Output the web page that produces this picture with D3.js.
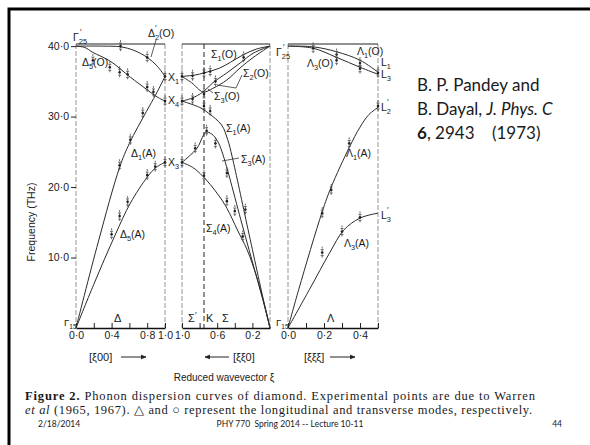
<!DOCTYPE html>
<html>
<head>
<meta charset="utf-8">
<script src="https://cdn.jsdelivr.net/npm/d3@7/dist/d3.min.js"></script>
<style>
  body { margin: 0; background: #fff; }
  svg text { font-family: "Liberation Sans", Arial, sans-serif; fill: #1a1a1a; }
</style>
</head>
<body>
<div id="chart"></div>
<script>
// phonon branches, [reduced wavevector ξ, frequency THz]
// Δ direction, Γ -> X
var delta2O = [[0, 40], [0.3, 40], [0.5, 39.9], [0.65, 39.4], [0.8, 38.4], [0.91, 37.2], [1, 35.7]];
var delta5O = [[0, 40], [0.1, 39.8], [0.19, 39.1], [0.38, 37.9], [0.61, 35.6], [0.8, 33.8], [0.91, 32.8], [1, 32.2]];
var delta1A = [[0, 0], [0.25, 12.2], [0.49, 22.8], [0.6, 26.2], [0.79, 30.7], [0.9, 33.2], [1, 35.7]];
var delta5A = [[0, 0], [0.2, 6.2], [0.44, 13.2], [0.61, 17.7], [0.8, 21.4], [0.9, 22.8], [1, 23.5]];
// Σ direction, X -> K -> Γ
var sigma1O = [[1, 35.7], [0.85, 35.9], [0.75, 36.2], [0.57, 36.9], [0.45, 37.7], [0.3, 38.8], [0.15, 39.6], [0, 40]];
var sigma2O = [[1, 32.2], [0.89, 32.6], [0.76, 33.5], [0.65, 34.8], [0.49, 36.2], [0.34, 37.6], [0.19, 39.0], [0, 40]];
var sigma3O = [[1, 35.7], [0.89, 34.8], [0.76, 33.5], [0.65, 34.0], [0.49, 35.2], [0.34, 36.9], [0.19, 38.4], [0, 40]];
var sigma1A = [[1, 32.2], [0.8, 31.3], [0.7, 30.5], [0.55, 28.8], [0.48, 26.7], [0.43, 24.3], [0.25, 14.0], [0.057, 3.0], [0, 0]];
var sigma3A = [[1, 23.5], [0.83, 25.5], [0.77, 27], [0.73, 27.8], [0.66, 27.5], [0.6, 26.6], [0.545, 25], [0.3, 13.9], [0.06, 3], [0, 0]];
var sigma4A = [[1, 23.5], [0.88, 22.8], [0.76, 21.5], [0.6, 19.1], [0.49, 17.0], [0.37, 13.9], [0.26, 11.1], [0.15, 7.2], [0.057, 3.0], [0, 0]];
// Λ direction, Γ -> L
var lambda1O = [[0, 40], [0.14, 39.9], [0.27, 39.2], [0.4, 38], [0.5, 36.3]];
var lambda3O = [[0, 40], [0.14, 39.7], [0.27, 38.4], [0.4, 37.0], [0.5, 36.0]];
var lambda1A = [[0, 0], [0.06, 5.5], [0.19, 16.5], [0.24, 20], [0.34, 25.6], [0.4, 28.5], [0.45, 30.3], [0.5, 31.3]];
var lambda3A = [[0, 0], [0.12, 5.5], [0.23, 10.6], [0.31, 13.9], [0.4, 15.6], [0.5, 16.3]];

// experimental points (Warren et al)
var expDelta = [[0.5, 40], [0.8, 38.4], [0.19, 38], [0.38, 37], [0.49, 36.3], [0.58, 36], [0.8, 34.2], [0.87, 33.5],
  [0.61, 26.7], [0.75, 30.5], [0.49, 23.1], [0.4, 13.3], [0.49, 15.9], [0.58, 17.9], [0.8, 21.7], [0.89, 22.9],
  [1, 35.7], [1, 32.2], [1, 23.5]];
var expSigma = [[1, 35.7], [1, 32.2], [1, 23.5], [0.88, 35.8], [0.88, 32.5], [0.75, 36.2], [0.75, 33.2], [0.75, 31.5],
  [0.68, 36.4], [0.68, 30.8], [0.62, 35], [0.3, 38.4], [0.85, 25.5], [0.72, 28], [0.62, 26.2], [0.75, 21.6],
  [0.49, 22], [0.49, 18], [0.4, 16.6], [0.28, 16.8], [0.31, 13]];
var expLambda = [[0.14, 39.7], [0.27, 38.8], [0.27, 38], [0.4, 37.6], [0.4, 36.8], [0.5, 36.2], [0.5, 31.5],
  [0.34, 26.2], [0.24, 19.6], [0.19, 16.3], [0.4, 15.7], [0.3, 13.7], [0.19, 10.7]];

var yTicks = [10, 20, 30, 40];

var svg = d3.select("#chart").append("svg").attr("width", 590).attr("height", 445);

// slide frame
svg.append("rect").attr("x", 9).attr("y", 9).attr("width", 700).attr("height", 600)
  .attr("fill", "none").attr("stroke", "#000").attr("stroke-width", 3);

var y = d3.scaleLinear().domain([0, 40.3]).range([328, 44]);
var xD = d3.scaleLinear().domain([0, 1]).range([76, 165]);
var xS = d3.scaleLinear().domain([1, 0]).range([182, 270]);
var xL = d3.scaleLinear().domain([0, 0.5]).range([288, 378]);

var fig = svg.append("g");
var fmt = function(d) { return d3.format(".1f")(d).replace(".", "\u00b7"); };

function panel(x, ticks, labels) {
  var r = x.range();
  var x0 = Math.min(r[0], r[1]), x1 = Math.max(r[0], r[1]);
  // sides
  [x0, x1].forEach(function(xx) {
    fig.append("line").attr("x1", xx).attr("x2", xx).attr("y1", y(40.3)).attr("y2", y(0))
      .attr("stroke", "#888").attr("stroke-width", 0.9).attr("stroke-dasharray", "5,2");
  });
  fig.append("line").attr("x1", x0).attr("x2", x1).attr("y1", y(40.3)).attr("y2", y(40.3))
    .attr("stroke", "#222").attr("stroke-width", 1);
  var ax = fig.append("g").attr("transform", "translate(0," + y(0) + ")")
    .call(d3.axisBottom(x).tickValues(ticks).tickSizeInner(-5).tickSizeOuter(0).tickPadding(4)
      .tickFormat(function(d) { return labels.indexOf(d) >= 0 ? fmt(d) : ""; }));
  ax.select(".domain").attr("stroke", "#111").attr("stroke-width", 1.3);
  ax.selectAll(".tick line").attr("stroke", "#222");
  ax.selectAll("text").style("font-size", "10.5px").attr("fill", "#1a1a1a");
}

panel(xD, [0, 0.2, 0.4, 0.6, 0.8, 1], [0, 0.4, 0.8, 1]);
panel(xS, [1, 0.8, 0.6, 0.4, 0.2], [1, 0.6, 0.2]);
panel(xL, [0, 0.1, 0.2, 0.3, 0.4, 0.5], [0, 0.2, 0.4]);

// K dashed line
fig.append("line").attr("x1", xS(0.75)).attr("x2", xS(0.75)).attr("y1", y(40.3)).attr("y2", y(0))
  .attr("stroke", "#222").attr("stroke-width", 1).attr("stroke-dasharray", "5,3");

// y axis
var yax = fig.append("g").attr("transform", "translate(" + xD(0) + ",0)")
  .call(d3.axisLeft(y).tickValues(yTicks).tickSize(5).tickPadding(2).tickFormat(fmt));
yax.select(".domain").remove();
yax.selectAll(".tick line").attr("stroke", "#222");
yax.selectAll("text").style("font-size", "10.5px").attr("fill", "#1a1a1a");

fig.append("text").attr("transform", "translate(35,222) rotate(-90)").attr("text-anchor", "middle")
  .style("font-size", "10.5px").text("Frequency (THz)");

// curves
function drawCurves(x, branches) {
  var line = d3.line().x(function(d) { return x(d[0]); }).y(function(d) { return y(d[1]); })
    .curve(d3.curveCatmullRom.alpha(0.5));
  branches.forEach(function(b) {
    fig.append("path").datum(b).attr("d", line).attr("fill", "none")
      .attr("stroke", "#2a2a2a").attr("stroke-width", 1);
  });
}
drawCurves(xD, [delta2O, delta5O, delta1A, delta5A]);
drawCurves(xS, [sigma1O, sigma2O, sigma3O, sigma1A, sigma3A, sigma4A]);
drawCurves(xL, [lambda1O, lambda3O, lambda1A, lambda3A]);

// experimental points with error bars
function drawPoints(x, pts) {
  var g = fig.append("g").selectAll("g").data(pts).join("g")
    .attr("transform", function(d) { return "translate(" + x(d[0]) + "," + y(d[1]) + ")"; });
  g.append("line").attr("y1", -6).attr("y2", 6).attr("stroke", "#444").attr("stroke-width", 0.8)
    .attr("stroke-dasharray", "2,1");
  g.append("line").attr("x1", -1.5).attr("x2", 1.5).attr("y1", -3).attr("y2", -3).attr("stroke", "#444").attr("stroke-width", 0.8);
  g.append("line").attr("x1", -1.5).attr("x2", 1.5).attr("y1", 3).attr("y2", 3).attr("stroke", "#444").attr("stroke-width", 0.8);
  g.append("circle").attr("r", 1.3).attr("fill", "#222");
}
drawPoints(xD, expDelta);
drawPoints(xS, expSigma);
drawPoints(xL, expLambda);

// labels: base letter, subscript, tail; prime drawn as its own small text above the subscript
function label(x0, y0, base, sub, prime, tail, size) {
  size = size || 10.5;
  var t = fig.append("text").attr("x", x0).attr("y", y0).style("font-size", size + "px");
  t.append("tspan").text(base);
  if (sub) t.append("tspan").attr("dy", 3).style("font-size", (size * 0.7) + "px").text(sub);
  if (tail) t.append("tspan").attr("dy", sub ? -3 : 0).text(tail);
  if (prime) {
    var bw = base === "L" ? 6 : 7;
    fig.append("text").attr("x", x0 + bw).attr("y", y0 - (sub ? 6 : 4))
      .style("font-size", (size * 0.8) + "px").text("\u2032");
  }
  return t;
}
label(73, 41, "\u0393", "25", true);
label(148, 37, "\u0394", "2", true, "(O)");
label(82, 66, "\u0394", "5", false, "(O)");
label(168, 81, "X", "1");
label(168, 104, "X", "4");
label(131, 157, "\u0394", "1", false, "(A)");
label(168, 166, "X", "3");
label(120, 238, "\u0394", "5", false, "(A)");
label(211, 58, "\u03a3", "1", false, "(O)");
label(243, 77, "\u03a3", "2", false, "(O)");
label(214, 100, "\u03a3", "3", false, "(O)");
label(226, 132, "\u03a3", "1", false, "(A)");
label(241, 163, "\u03a3", "3", false, "(A)");
label(206, 232, "\u03a3", "4", false, "(A)");
label(276, 56, "\u0393", "25", true);
label(307, 67, "\u039b", "3", false, "(O)");
label(357, 55, "\u039b", "1", false, "(O)");
label(381, 66, "L", "1");
label(381, 78, "L", "3");
label(381, 111, "L", "2", true);
label(381, 219, "L", "3", true);
label(346, 157, "\u039b", "1", false, "(A)");
label(344, 247, "\u039b", "3", false, "(A)");
label(64, 326, "\u0393", "15", false, null, 9.5);
label(276, 326, "\u0393", "15", false, null, 9.5);
label(114, 322, "\u0394", null, false, null, 11);
label(188, 322, "\u03a3", null, true, null, 11);
label(206, 322, "K", null, false, null, 11);
label(222, 322, "\u03a3", null, false, null, 11);
label(327, 322, "\u039b", null, false, null, 11);

// pointer lines
var pointers = [
  [[156, 40], [151, 57]],
  [[242, 75], [236, 88], [217, 85]],
  [[213, 93], [208, 89]],
  [[239, 158], [222, 161]]
];
pointers.forEach(function(p) {
  fig.append("path").attr("d", d3.line()(p)).attr("fill", "none").attr("stroke", "#333").attr("stroke-width", 0.8);
});

// direction labels with arrows
function arrow(xa, xb, yy) {
  fig.append("line").attr("x1", xa).attr("x2", xb).attr("y1", yy).attr("y2", yy).attr("stroke", "#222").attr("stroke-width", 1);
  var s = xb > xa ? -1 : 1;
  fig.append("path").attr("d", d3.line()([[xb + s * 5, yy - 2], [xb, yy], [xb + s * 5, yy + 2]]))
    .attr("fill", "#222").attr("stroke", "#222").attr("stroke-width", 0.6);
}
fig.append("text").attr("x", 89).attr("y", 361).style("font-size", "11px").text("[\u03be00]");
arrow(121, 146, 357);
fig.append("text").attr("x", 233).attr("y", 361).style("font-size", "11px").text("[\u03be\u03be0]");
arrow(229, 205, 357);
fig.append("text").attr("x", 304).attr("y", 361).style("font-size", "11px").text("[\u03be\u03be\u03be]");
arrow(330, 355, 357);
fig.append("text").attr("x", 224).attr("y", 381).attr("text-anchor", "middle").style("font-size", "10px")
  .text("Reduced wavevector \u03be");

// citation
var cite = svg.append("g");
cite.append("text").attr("x", 417).attr("y", 91).style("font-family", "Lato").style("font-size", "17px").attr("fill", "#000")
  .text("B. P. Pandey and");
var c2 = cite.append("text").attr("x", 417).attr("y", 115).style("font-family", "Lato").style("font-size", "17px");
c2.append("tspan").text("B. Dayal, ");
c2.append("tspan").style("font-style", "italic").text("J. Phys. C");
var c3 = cite.append("text").attr("x", 417).attr("y", 139).style("font-family", "Lato").style("font-size", "17px")
  .style("white-space", "pre");
c3.append("tspan").style("font-weight", "bold").text("6");
c3.append("tspan").text(", 2943    (1973)");

// caption
var cap = svg.append("g");
var l1 = cap.append("text").attr("x", 25).attr("y", 400).style("font-family", "'Liberation Serif', serif")
  .style("font-size", "12.5px").attr("textLength", 510).attr("lengthAdjust", "spacing");
l1.append("tspan").style("font-weight", "bold").text("Figure 2.");
l1.append("tspan").text(" Phonon dispersion curves of diamond. Experimental points are due to Warren");
var l2 = cap.append("text").attr("x", 25).attr("y", 414).style("font-family", "'Liberation Serif', serif")
  .style("font-size", "12.5px").attr("textLength", 507).attr("lengthAdjust", "spacing");
l2.append("tspan").style("font-style", "italic").text("et al");
l2.append("tspan").text(" (1965, 1967). \u25b3 and \u25cb represent the longitudinal and transverse modes, respectively.");

// footer
var foot = svg.append("g").style("font-size", "8.5px");
foot.append("text").attr("x", 38).attr("y", 427).style("font-family", "Lato").attr("fill", "#8a8a8a").text("2/18/2014");
foot.append("text").attr("x", 290).attr("y", 427).attr("text-anchor", "middle").style("font-family", "Lato")
  .style("white-space", "pre").attr("fill", "#8a8a8a").text("PHY 770  Spring 2014 -- Lecture 10-11");
foot.append("text").attr("x", 562).attr("y", 427).attr("text-anchor", "end").style("font-family", "Lato")
  .attr("fill", "#8a8a8a").text("44");
</script>
</body>
</html>
